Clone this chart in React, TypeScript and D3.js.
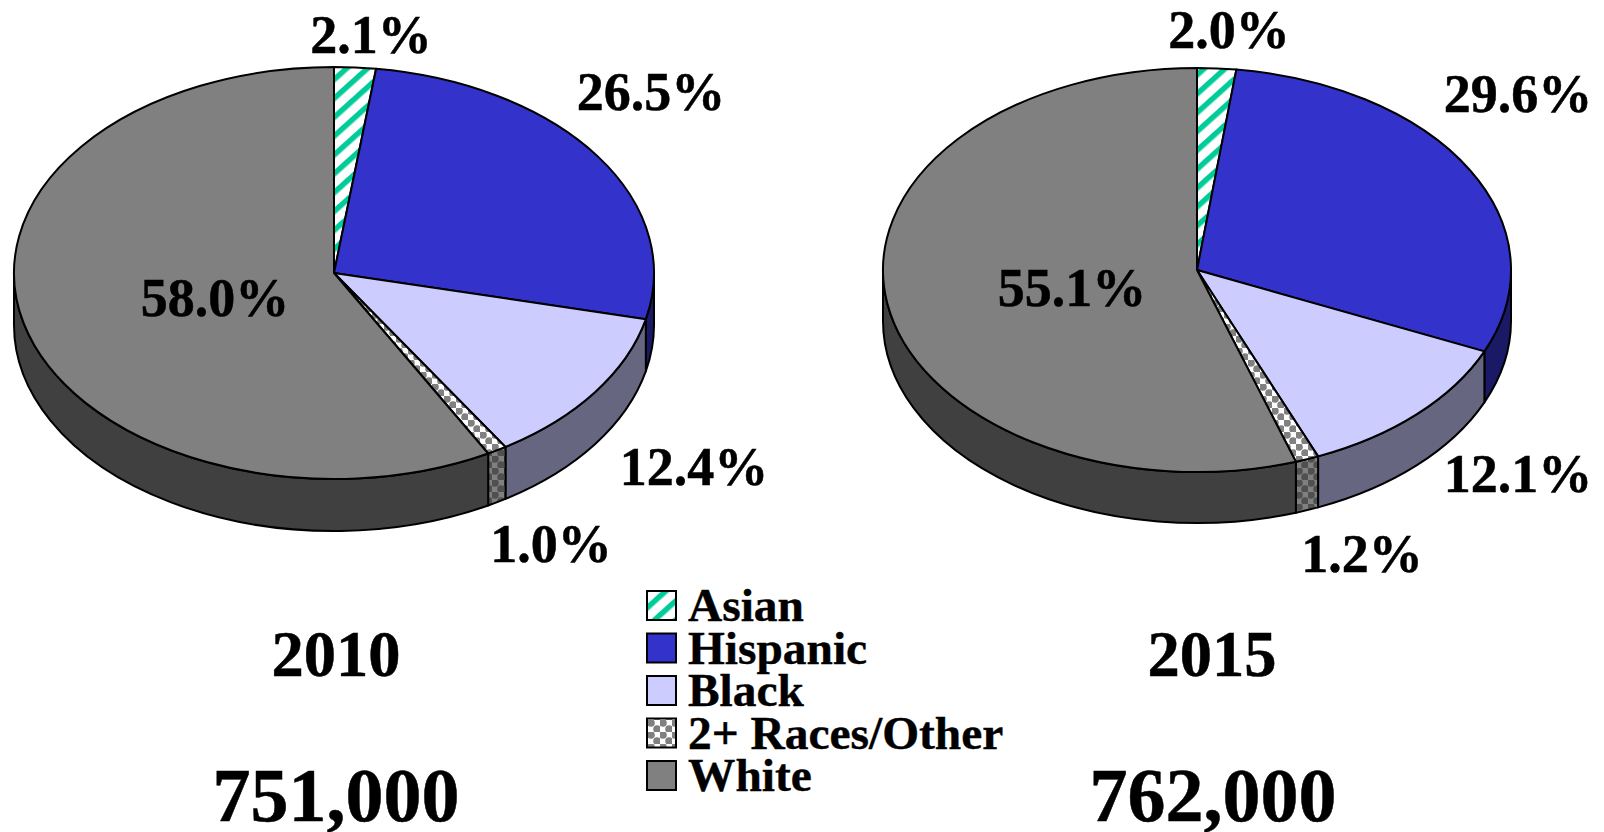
import React from "react";
import * as d3 from "d3";

const categories = ["Asian", "Hispanic", "Black", "2+ Races/Other", "White"];
const years = ["2010", "2015"];
const totals = ["751,000", "762,000"];
const values2010 = [2.1, 26.5, 12.4, 1.0, 58.0];
const values2015 = [2.0, 29.6, 12.1, 1.2, 55.1];
const topFill = ["url(#hatch)", "#3333cc", "#ccccff", "url(#dots)", "#808080"];
const sideFill = ["url(#hatch)", "#191966", "#666680", "url(#dotsDark)", "#404040"];

const pies = [
  { values: values2010, cx: 334, cy: 273, rx: 320, ry: 206, depth: 52,
    labels: [[371, 53], [651, 110], [694, 485], [551, 562], [215, 316]],
    year: [336, 676], total: [336, 821] },
  { values: values2015, cx: 1197, cy: 270, rx: 314, ry: 202, depth: 51,
    labels: [[1229, 48], [1518, 112], [1518, 492], [1362, 572], [1072, 306]],
    year: [1212, 676], total: [1213, 821] },
];

const font = "'Liberation Serif', 'Times New Roman', serif";

function pt(p: any, a: number) {
  return [p.cx + p.rx * Math.sin(a), p.cy - p.ry * Math.cos(a)];
}

function topPath(p: any, a0: number, a1: number) {
  const [x0, y0] = pt(p, a0);
  const [x1, y1] = pt(p, a1);
  const large = a1 - a0 > Math.PI ? 1 : 0;
  return `M${p.cx},${p.cy}L${x0},${y0}A${p.rx},${p.ry} 0 ${large} 1 ${x1},${y1}Z`;
}

function sidePath(p: any, a0: number, a1: number) {
  const s = Math.max(a0, Math.PI / 2);
  const e = Math.min(a1, (3 * Math.PI) / 2);
  if (e <= s) return null;
  const [x0, y0] = pt(p, s);
  const [x1, y1] = pt(p, e);
  return `M${x0},${y0}A${p.rx},${p.ry} 0 0 1 ${x1},${y1}L${x1},${y1 + p.depth}A${p.rx},${p.ry} 0 0 0 ${x0},${y0 + p.depth}Z`;
}

const legendY = d3.scalePoint<string>().domain(categories).range([606, 776]);

function Pie({ p }: { p: any }) {
  const arcs = d3.pie<number>().sort(null)(p.values);
  return (
    <g>
      {arcs.map((a, i) => {
        const d = sidePath(p, a.startAngle, a.endAngle);
        return d ? <path key={i} d={d} fill={sideFill[i]} stroke="#000" strokeWidth={2} strokeLinejoin="round" /> : null;
      })}
      {arcs.map((a, i) => (
        <path key={i} d={topPath(p, a.startAngle, a.endAngle)} fill={topFill[i]} stroke="#000" strokeWidth={2} strokeLinejoin="round" />
      ))}
      {p.values.map((v: number, i: number) => (
        <text key={i} x={p.labels[i][0]} y={p.labels[i][1]} textAnchor="middle" fontSize={54}
          stroke="#000" strokeWidth={0.5}>
          {v.toFixed(1)}%
        </text>
      ))}
    </g>
  );
}

export default function App() {
  return (
    <svg width={1604} height={832} viewBox="0 0 1604 832"
      style={{ position: "absolute", left: 0, top: 0, background: "#fff" }}
      fontFamily={font} fontWeight="bold" fill="#000">
      <defs>
        <pattern id="hatch" width="14" height="14" patternUnits="userSpaceOnUse" patternTransform="rotate(-42)">
          <rect width="14" height="14" fill="#fff" />
          <rect width="14" height="5.5" fill="#00cc99" />
        </pattern>
        <pattern id="dots" width="12" height="12" patternUnits="userSpaceOnUse">
          <rect width="12" height="12" fill="#fff" />
          <circle cx="3" cy="3" r="3.8" fill="#808080" />
          <circle cx="9" cy="9" r="3.8" fill="#808080" />
        </pattern>
        <pattern id="dotsDark" width="12" height="12" patternUnits="userSpaceOnUse">
          <rect width="12" height="12" fill="#808080" />
          <circle cx="3" cy="3" r="3.8" fill="#505050" />
          <circle cx="9" cy="9" r="3.8" fill="#505050" />
        </pattern>
      </defs>
      {pies.map((p, i) => (
        <g key={i}>
          <Pie p={p} />
          <text x={p.year[0]} y={p.year[1]} textAnchor="middle" fontSize={64.5} stroke="#000" strokeWidth={0.5}>{years[i]}</text>
          <text x={p.total[0]} y={p.total[1]} textAnchor="middle" fontSize={76} stroke="#000" strokeWidth={0.5}>{totals[i]}</text>
        </g>
      ))}
      {categories.map((c, i) => {
        const y = legendY(c) as number;
        return (
          <g key={c}>
            <rect x={647} y={y - 15} width={29} height={29} fill={topFill[i]} stroke="#000" strokeWidth={2} />
            <text x={688} y={y + 15} fontSize={47.4} stroke="#000" strokeWidth={0.4}>{c}</text>
          </g>
        );
      })}
    </svg>
  );
}
